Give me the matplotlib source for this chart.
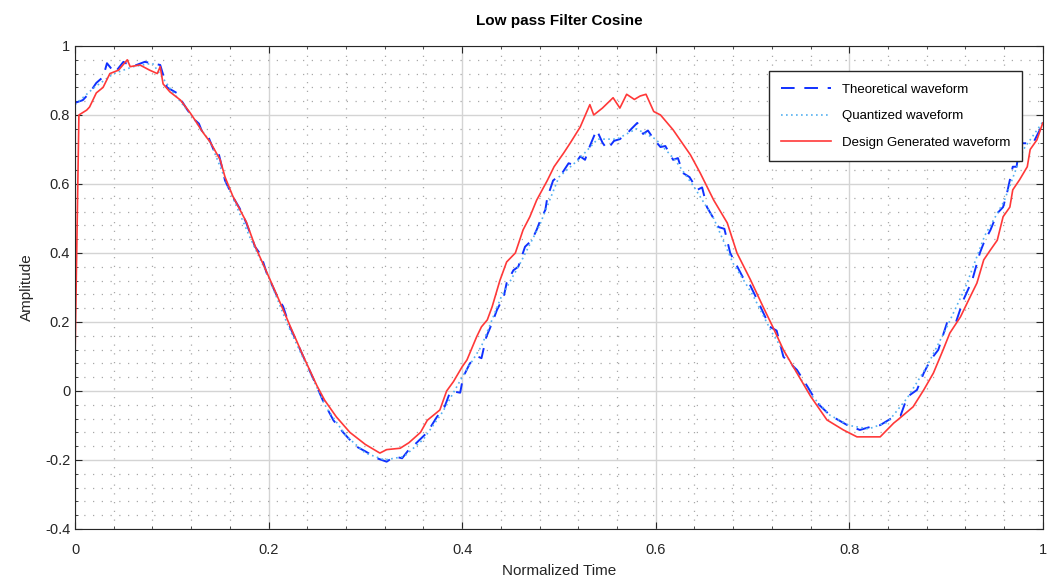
import numpy as np
import matplotlib.pyplot as plt
from matplotlib.ticker import MultipleLocator

# Theoretical waveform
theo_x = [0.0, 0.008, 0.015, 0.022, 0.029, 0.033, 0.041, 0.05, 0.059, 0.072, 0.088, 0.095,
          0.105, 0.116, 0.124, 0.128, 0.132, 0.138, 0.143, 0.147, 0.15, 0.155, 0.163, 0.17,
          0.177, 0.186, 0.192, 0.198, 0.209, 0.215, 0.222, 0.236, 0.25, 0.256, 0.267, 0.277,
          0.29, 0.30, 0.312, 0.322, 0.33, 0.338, 0.345, 0.353, 0.364, 0.374, 0.382, 0.388,
          0.398, 0.401, 0.408, 0.416, 0.42, 0.425, 0.431, 0.436, 0.443, 0.446, 0.453, 0.458,
          0.465, 0.472, 0.477, 0.481, 0.486, 0.488, 0.494, 0.503, 0.51, 0.516, 0.522, 0.527,
          0.532, 0.539, 0.545, 0.55, 0.557, 0.563, 0.57, 0.575, 0.581, 0.587, 0.592, 0.598,
          0.605, 0.61, 0.618, 0.623, 0.628, 0.635, 0.643, 0.648, 0.653, 0.665, 0.671, 0.677,
          0.69, 0.697, 0.705, 0.718, 0.725, 0.732, 0.746, 0.757, 0.767, 0.78, 0.798, 0.811,
          0.822, 0.832, 0.846, 0.853, 0.86, 0.87, 0.877, 0.884, 0.892, 0.901, 0.91, 0.918,
          0.927, 0.935, 0.939, 0.946, 0.953, 0.959, 0.963, 0.969, 0.973, 0.976, 0.99, 0.997,
          1.0]
theo_y = [0.835, 0.843, 0.864, 0.893, 0.91, 0.95, 0.922, 0.954, 0.94, 0.954, 0.945, 0.88,
          0.864, 0.815, 0.785, 0.775, 0.747, 0.735, 0.70, 0.705, 0.67, 0.61, 0.563, 0.53,
          0.487, 0.418, 0.395, 0.342, 0.273, 0.245, 0.186, 0.099, 0.012, -0.027, -0.085, -0.12,
          -0.16, -0.175, -0.195, -0.205, -0.19, -0.195, -0.17, -0.15, -0.12, -0.075, -0.045, 0.0,
          -0.005, 0.04, 0.08, 0.1, 0.095, 0.157, 0.197, 0.235, 0.273, 0.313, 0.35, 0.36,
          0.418, 0.437, 0.467, 0.496, 0.525, 0.56, 0.61, 0.63, 0.66, 0.655, 0.68, 0.67,
          0.71, 0.757, 0.72, 0.70, 0.725, 0.73, 0.745, 0.76, 0.777, 0.745, 0.755, 0.73,
          0.707, 0.71, 0.67, 0.675, 0.632, 0.62, 0.583, 0.59, 0.533, 0.475, 0.47, 0.40,
          0.33, 0.31, 0.264, 0.186, 0.175, 0.099, 0.061, 0.012, -0.035, -0.07, -0.099, -0.113,
          -0.104, -0.099, -0.075, -0.072, -0.017, 0.003, 0.052, 0.09, 0.119, 0.197, 0.197, 0.264,
          0.32, 0.40, 0.429, 0.467, 0.515, 0.533, 0.573, 0.65, 0.65, 0.718, 0.718, 0.757,
          0.786]

# Quantized waveform
quant_x = [0.0, 0.02, 0.04, 0.06, 0.08, 0.1, 0.12, 0.14, 0.16, 0.18, 0.2, 0.22, 0.24, 0.26,
           0.28, 0.3, 0.32, 0.34, 0.36, 0.38, 0.4, 0.42, 0.44, 0.46, 0.48, 0.5, 0.52, 0.54,
           0.56, 0.58, 0.6, 0.62, 0.64, 0.66, 0.68, 0.7, 0.72, 0.74, 0.76, 0.78, 0.8, 0.82,
           0.84, 0.86, 0.88, 0.9, 0.92, 0.94, 0.96, 0.98, 1.0]
quant_y = [0.83, 0.88, 0.92, 0.94, 0.95, 0.87, 0.80, 0.72, 0.58, 0.45, 0.33, 0.19, 0.07, -0.05,
           -0.13, -0.18, -0.20, -0.19, -0.14, -0.06, 0.04, 0.13, 0.27, 0.37, 0.48, 0.62, 0.67, 0.73,
           0.73, 0.76, 0.73, 0.67, 0.59, 0.50, 0.37, 0.28, 0.17, 0.08, -0.01, -0.07, -0.10, -0.11,
           -0.09, -0.02, 0.07, 0.18, 0.30, 0.45, 0.55, 0.70, 0.78]

# Design generated waveform
des_x = [0.0, 0.004, 0.012, 0.015, 0.022, 0.029, 0.036, 0.045, 0.054, 0.057, 0.067, 0.077,
         0.085, 0.088, 0.091, 0.098, 0.109, 0.119, 0.124, 0.132, 0.14, 0.15, 0.155, 0.163,
         0.177, 0.186, 0.198, 0.209, 0.222, 0.236, 0.25, 0.258, 0.27, 0.284, 0.30, 0.315,
         0.322, 0.336, 0.345, 0.357, 0.364, 0.377, 0.384, 0.391, 0.40, 0.405, 0.415, 0.42,
         0.426, 0.431, 0.439, 0.446, 0.455, 0.463, 0.47, 0.477, 0.488, 0.495, 0.505, 0.512,
         0.522, 0.532, 0.536, 0.545, 0.556, 0.563, 0.57, 0.578, 0.584, 0.59, 0.598, 0.605,
         0.618, 0.636, 0.646, 0.66, 0.674, 0.684, 0.698, 0.711, 0.721, 0.732, 0.746, 0.76,
         0.777, 0.794, 0.808, 0.825, 0.832, 0.846, 0.85, 0.866, 0.877, 0.887, 0.897, 0.904,
         0.915, 0.925, 0.932, 0.939, 0.946, 0.953, 0.959, 0.966, 0.969, 0.976, 0.984, 0.987,
         0.994, 1.0]
des_y = [0.10, 0.80, 0.814, 0.823, 0.864, 0.88, 0.92, 0.93, 0.96, 0.94, 0.945, 0.93,
         0.92, 0.94, 0.89, 0.867, 0.843, 0.806, 0.785, 0.75, 0.72, 0.67, 0.62, 0.565,
         0.49, 0.42, 0.345, 0.275, 0.19, 0.10, 0.015, -0.027, -0.075, -0.12, -0.155, -0.18,
         -0.17, -0.166, -0.15, -0.12, -0.085, -0.055, 0.0, 0.027, 0.07, 0.09, 0.157, 0.186,
         0.206, 0.244, 0.32, 0.374, 0.40, 0.467, 0.505, 0.553, 0.61, 0.65, 0.69, 0.72,
         0.765, 0.83, 0.80, 0.82, 0.85, 0.82, 0.86, 0.845, 0.855, 0.86, 0.81, 0.80,
         0.757, 0.684, 0.632, 0.553, 0.487, 0.40, 0.322, 0.244, 0.186, 0.119, 0.052, -0.015,
         -0.084, -0.113, -0.133, -0.133, -0.133, -0.093, -0.084, -0.046, 0.003, 0.052, 0.119, 0.168,
         0.215, 0.273, 0.313, 0.38, 0.409, 0.437, 0.505, 0.533, 0.583, 0.612, 0.65, 0.70,
         0.728, 0.777]

plt.rcParams['font.family'] = ['Liberation Sans', 'DejaVu Sans']
plt.rcParams['font.size'] = 10

fig = plt.figure(figsize=(10.48, 5.79), dpi=100)
ax = fig.add_axes([0.0716, 0.0864, 0.9234, 0.8342])

ax.plot(theo_x, theo_y, color='#1030ff', linestyle=(0, (7, 5)), linewidth=1.4,
        label='Theoretical waveform')
ax.plot(quant_x, quant_y, color='#55b0f0', linestyle=(0, (1, 2)), linewidth=1.2,
        label='Quantized waveform')
ax.plot(des_x, des_y, color='#ff3838', linestyle='-', linewidth=1.2,
        label='Design Generated waveform')

ax.set_xlim(0, 1)
ax.set_ylim(-0.4, 1)
ax.xaxis.set_minor_locator(MultipleLocator(0.04))
ax.yaxis.set_minor_locator(MultipleLocator(0.04))
ax.set_xticks([0, 0.2, 0.4, 0.6, 0.8, 1.0])
ax.set_xticklabels(['0', '0.2', '0.4', '0.6', '0.8', '1'])
ax.set_yticks([-0.4, -0.2, 0, 0.2, 0.4, 0.6, 0.8, 1.0])
ax.set_yticklabels(['-0.4', '-0.2', '0', '0.2', '0.4', '0.6', '0.8', '1'])

ax.grid(which='major', color='#d4d4d4', linestyle='-', linewidth=1.0)
ax.grid(which='minor', color='#a8a8a8', linestyle=(0, (1, 6)), linewidth=0.9)
ax.set_axisbelow(True)

ax.tick_params(which='both', direction='in', top=True, right=True, colors='#262626',
               labelcolor='#262626', labelsize=10.5)
ax.tick_params(which='major', length=5)
ax.tick_params(which='minor', length=2.5)
ax.tick_params(axis='x', pad=10)
for s in ax.spines.values():
    s.set_color('#262626')

ax.set_title('Low pass Filter Cosine', fontsize=11, fontweight='bold', pad=15)
ax.set_xlabel('Normalized Time', fontsize=11, labelpad=5, color='#262626')
ax.set_ylabel('Amplitude', fontsize=11, labelpad=8, color='#262626')

leg = ax.legend(loc='upper right', bbox_to_anchor=(0.9855, 0.961), fontsize=9.5,
                fancybox=False, framealpha=1, edgecolor='#262626', borderpad=0.9,
                labelspacing=1.1, handlelength=3.8, handletextpad=0.8)
leg.get_frame().set_linewidth(1.0)

plt.savefig('out.png', dpi=100)
